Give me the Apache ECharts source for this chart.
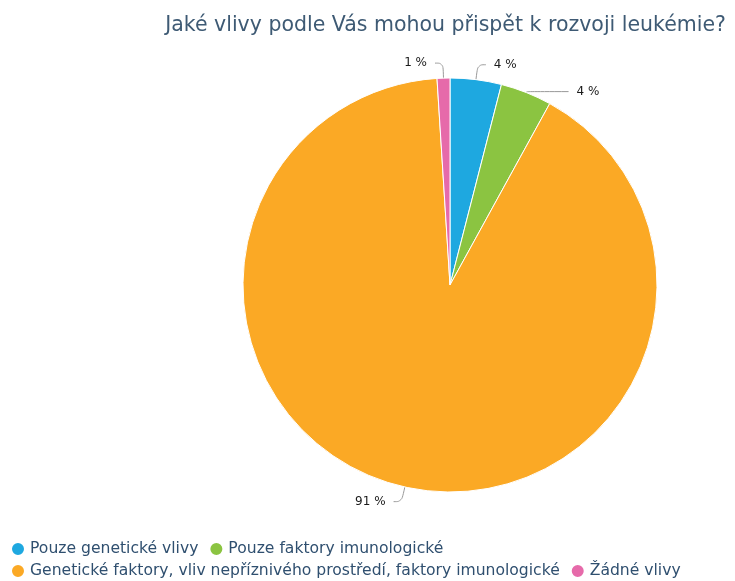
<!DOCTYPE html>
<html>
<head>
<meta charset="utf-8">
<script src="https://cdn.jsdelivr.net/npm/echarts@6/dist/echarts.min.js"></script>
<style>
  html, body { margin: 0; padding: 0; background: #fff; }
  #chart { width: 735px; height: 581px; }
</style>
</head>
<body>
<div id="chart"></div>
<script>
// Survey answers: which influences can contribute to leukaemia
const categories = [
  'Pouze genetické vlivy',
  'Pouze faktory imunologické',
  'Genetické faktory, vliv nepříznivého prostředí, faktory imunologické',
  'Žádné vlivy'
];
const values = [4, 4, 91, 1];
const colors = ['#1ea8e0', '#8bc441', '#fba925', '#e66aaa'];

const font = '"DejaVu Sans", Verdana, sans-serif';

const chart = echarts.init(document.getElementById('chart'), null, { renderer: 'canvas' });

const legendText = { fontFamily: font, fontSize: 15.6, color: '#2f4f6f', padding: [0, 0, 0, 0] };

chart.setOption({
  animation: false,
  title: {
    text: 'Jaké vlivy podle Vás mohou přispět k rozvoji leukémie?',
    right: 4,
    top: 10,
    textStyle: { fontFamily: font, fontSize: 20.5, fontWeight: 'normal', color: '#3e5a74' }
  },
  legend: [
    {
      data: categories.slice(0, 2),
      left: 5, top: 536,
      icon: 'circle', itemWidth: 14, itemHeight: 14, itemGap: 10,
      textStyle: legendText
    },
    {
      data: categories.slice(2),
      left: 5, top: 558,
      icon: 'circle', itemWidth: 14, itemHeight: 14, itemGap: 10,
      textStyle: legendText
    }
  ],
  series: [{
    type: 'pie',
    center: [450, 285],
    radius: 207,
    startAngle: 90,
    clockwise: true,
    avoidLabelOverlap: false,
    itemStyle: { borderColor: '#ffffff', borderWidth: 1 },
    label: {
      formatter: '{c} %',
      fontFamily: font,
      fontSize: 12,
      color: '#1a1a1a',
      distanceToLabelLine: 8
    },
    labelLine: {
      show: true,
      length: 15,
      length2: 8,
      smooth: 0.4,
      lineStyle: { color: '#999999', width: 1 }
    },
    data: categories.map((name, i) => {
      const d = { name, value: values[i], itemStyle: { color: colors[i] } };
      if (i === 1) d.labelLine = { length: 1, length2: 42 };
      return d;
    })
  }]
});
</script>
</body>
</html>
